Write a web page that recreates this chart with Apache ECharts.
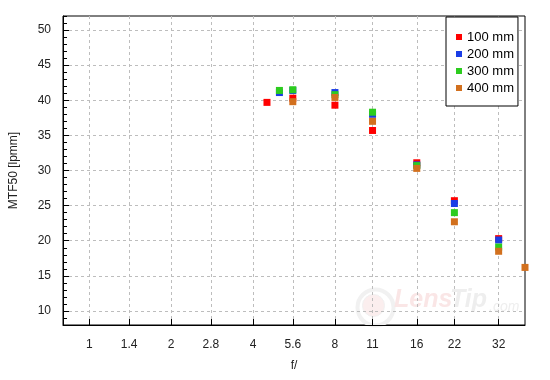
<!DOCTYPE html>
<html>
<head>
<meta charset="utf-8">
<script src="https://cdn.jsdelivr.net/npm/echarts@6/dist/echarts.min.js"></script>
<style>
html,body{margin:0;padding:0;background:#fff;}
#chart{width:550px;height:380px;}
</style>
</head>
<body>
<div id="chart"></div>
<script>
// f-number tick labels
var fTicks = [1, 1.4, 2, 2.8, 4, 5.6, 8, 11, 16, 22, 32];
var yTicks = [10, 15, 20, 25, 30, 35, 40, 45, 50];
var seriesNames = ['100 mm', '200 mm', '300 mm', '400 mm'];
var seriesColors = ['#ff0000', '#1a3de6', '#2ccc1e', '#d2701e'];

// apertures and MTF50 values per focal length
var f100 = [4.5, 5.6, 8, 11, 16, 22, 32];
var mtf100 = [39.7, 40.3, 39.3, 35.7, 31.1, 25.7, 20.3];

var f200 = [5, 5.6, 8, 11, 16, 22, 32];
var mtf200 = [41.1, 41.4, 41.1, 38.0, 30.8, 25.3, 20.1];

var f300 = [5, 5.6, 8, 11, 16, 22, 32];
var mtf300 = [41.4, 41.5, 40.8, 38.3, 30.7, 24.0, 19.1];

var f400 = [5.6, 8, 11, 16, 22, 32, 40];
var mtf400 = [39.8, 40.4, 37.0, 30.3, 22.7, 18.5, 16.2];

var fAll = [f100, f200, f300, f400];
var mtfAll = [mtf100, mtf200, mtf300, mtf400];

var FONT = '"Liberation Sans", Arial, sans-serif';
var tickLog = fTicks.map(function (v) { return Math.log2(v); });

function fLabel(v) {
  var best = 0, bd = 1e9;
  for (var i = 0; i < tickLog.length; i++) {
    var d = Math.abs(tickLog[i] - v);
    if (d < bd) { bd = d; best = i; }
  }
  return String(fTicks[best]);
}

var series = seriesNames.map(function (name, i) {
  return {
    name: name,
    type: 'scatter',
    symbol: 'rect',
    symbolSize: 7,
    itemStyle: { color: seriesColors[i], opacity: 1 },
    z: 3 + i,
    data: fAll[i].map(function (f, j) { return [Math.log2(f), mtfAll[i][j]]; })
  };
});

var chart = echarts.init(document.getElementById('chart'), null, { renderer: 'canvas' });
chart.setOption({
  animation: false,
  backgroundColor: '#ffffff',
  textStyle: { fontFamily: FONT },
  grid: {
    left: 61, top: 16, right: 25, bottom: 55,
    show: true, borderColor: '#000', borderWidth: 1, backgroundColor: 'transparent'
  },
  graphic: [
    { type: 'circle', left: 355, top: 287, shape: { r: 18 }, style: { fill: 'none', stroke: '#f1f1f1', lineWidth: 4 }, z: 0, silent: true },
    { type: 'circle', left: 362, top: 294, shape: { r: 11 }, style: { fill: '#fbeeee', stroke: '#f1f1f1', lineWidth: 1 }, z: 0, silent: true },
    { type: 'text', left: 394, top: 288, style: { text: 'Lens', fill: '#fae6e6', font: 'italic bold 25px ' + FONT }, z: 0, silent: true },
    { type: 'text', left: 450, top: 288, style: { text: 'Tip', fill: '#eeeeee', font: 'italic bold 25px ' + FONT }, z: 0, silent: true },
    { type: 'text', left: 489, top: 300, style: { text: '.com', fill: '#eeeeee', font: 'italic 14px ' + FONT }, z: 0, silent: true }
  ],
  legend: {
    left: 446, top: 17,
    orient: 'vertical',
    data: seriesNames,
    icon: 'rect',
    itemWidth: 6, itemHeight: 6,
    itemGap: 3,
    padding: [13, 4, 11, 10],
    backgroundColor: '#fff',
    borderColor: '#000', borderWidth: 1, borderRadius: 0,
    textStyle: { fontSize: 13, color: '#000', fontFamily: FONT, lineHeight: 14, padding: [0, 0, 0, 0] },
    itemStyle: { borderWidth: 0 }
  },
  xAxis: {
    type: 'value',
    min: Math.log2(0.8),
    max: Math.log2(40),
    name: 'f/',
    nameLocation: 'middle',
    nameGap: 35,
    nameTextStyle: { fontSize: 12, color: '#222', fontFamily: FONT },
    axisLine: { show: true, onZero: false, lineStyle: { color: '#000', width: 1 } },
    axisTick: { show: true, inside: true, length: 6, lineStyle: { color: '#000' }, customValues: tickLog },
    axisLabel: { show: true, margin: 14, fontSize: 12, color: '#222', fontFamily: FONT, customValues: tickLog, formatter: fLabel },
    splitLine: { show: true, lineStyle: { color: '#bdbdbd', type: [3, 3], width: 1 } }
  },
  yAxis: [
    {
      type: 'value',
      min: 8, max: 52,
      position: 'left',
      name: 'MTF50 [lpmm]',
      nameLocation: 'middle',
      nameGap: 43,
      nameRotate: 90,
      nameTextStyle: { fontSize: 12, color: '#222', fontFamily: FONT },
      axisLine: { show: true, onZero: false, lineStyle: { color: '#000', width: 1 } },
      axisTick: { show: true, inside: true, length: 6, lineStyle: { color: '#000' }, customValues: yTicks },
      axisLabel: { show: true, margin: 12, fontSize: 12, color: '#222', fontFamily: FONT, customValues: yTicks },
      splitLine: { show: true, lineStyle: { color: '#bdbdbd', type: [3, 3], width: 1 } }
    },
    {
      type: 'value',
      min: 8, max: 52, interval: 1,
      position: 'left',
      offset: 0,
      axisLine: { show: false, onZero: false },
      axisTick: { show: true, inside: true, length: 4, lineStyle: { color: '#000' } },
      axisLabel: { show: false },
      splitLine: { show: false }
    }
  ],
  series: series
});
</script>
</body>
</html>
